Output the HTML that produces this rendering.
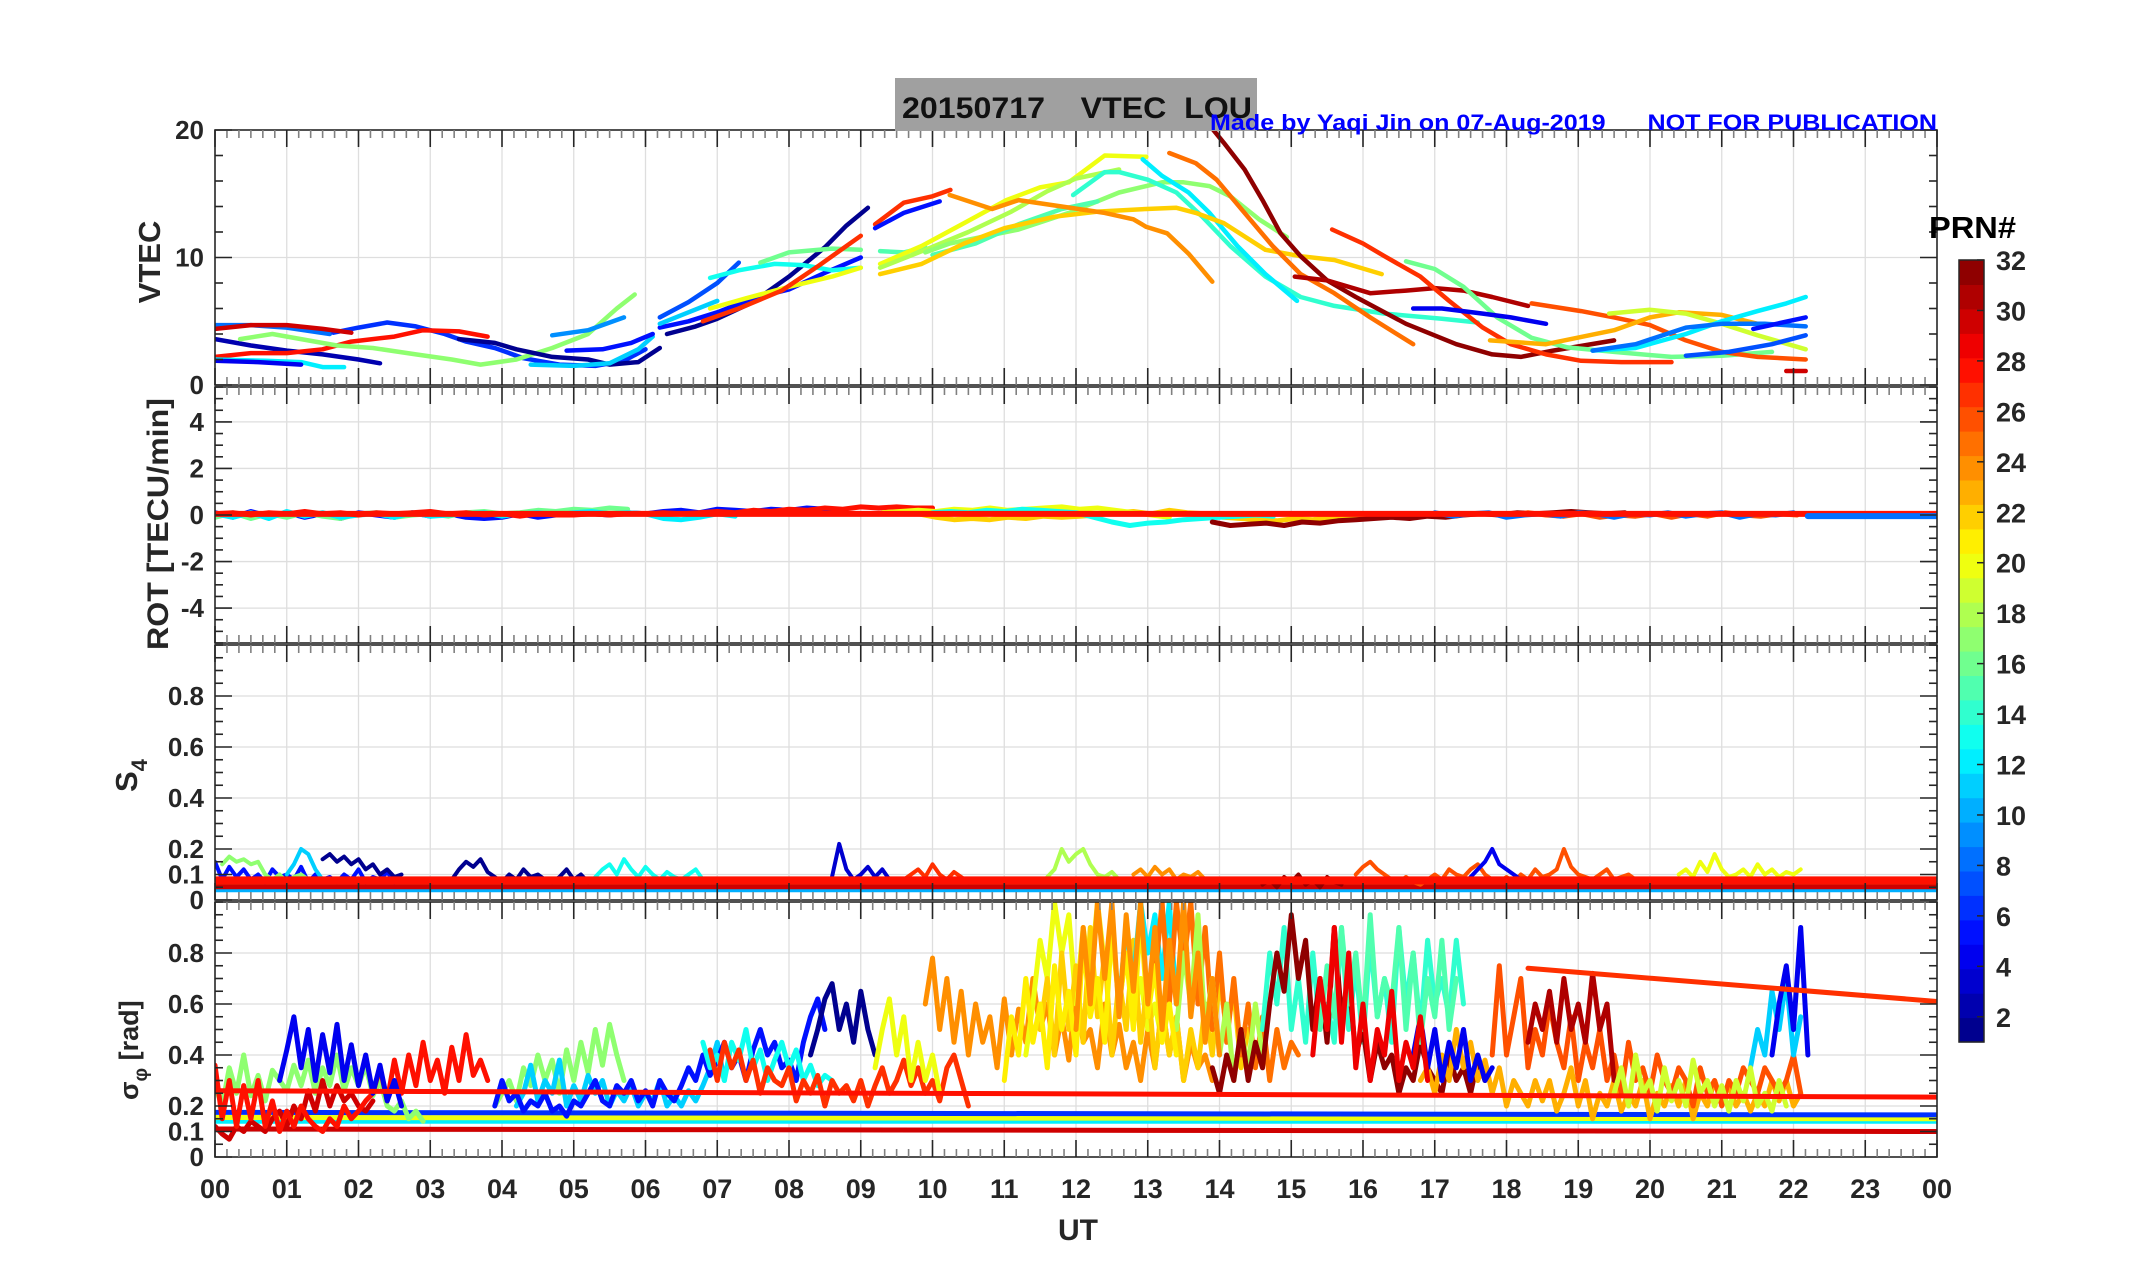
<!DOCTYPE html>
<html><head><meta charset="utf-8"><style>
html,body{margin:0;padding:0;background:#fff;}
svg{display:block;font-family:"Liberation Sans",Arial,sans-serif;}
</style></head><body>
<svg id="fig" width="2153" height="1286" viewBox="0 0 2153 1286" xmlns="http://www.w3.org/2000/svg">
<rect x="0" y="0" width="2153" height="1286" fill="#fff"/>
<g id="panels"></g>
<rect x="895" y="78" width="362" height="53" fill="#a0a0a0"/>
<text x="902" y="118" font-size="30" font-weight="bold" fill="#111" textLength="350" lengthAdjust="spacingAndGlyphs" xml:space="preserve">20150717    VTEC  LOU</text>
<text x="1210" y="130" font-size="22" font-weight="bold" fill="#0000ff" textLength="727" lengthAdjust="spacingAndGlyphs" xml:space="preserve">Made by Yaqi Jin on 07-Aug-2019      NOT FOR PUBLICATION</text>
<text transform="translate(160,262) rotate(-90)" text-anchor="middle" font-size="31" font-weight="bold" fill="#262626">VTEC</text>
<text transform="translate(168,524) rotate(-90)" text-anchor="middle" font-size="30" font-weight="bold" fill="#262626" textLength="252" lengthAdjust="spacingAndGlyphs">ROT [TECU/min]</text>
<text transform="translate(137,792) rotate(-90)" font-size="31" font-weight="bold" fill="#262626">S<tspan font-size="22" dy="10">4</tspan></text>
<text transform="translate(138,1100) rotate(-90)" font-size="27" font-weight="bold" fill="#262626">σ<tspan font-size="19" dy="9">φ</tspan><tspan dy="-9"> [rad]</tspan></text>
<text x="1078" y="1240" text-anchor="middle" font-size="30" font-weight="bold" fill="#262626">UT</text>
<g id="cbar"></g>
<text x="1929" y="238" font-size="31" font-weight="bold" fill="#000" textLength="87" lengthAdjust="spacingAndGlyphs">PRN#</text>
</svg>
<script>
// ---------- data ----------
const xHourTicks = [0,1,2,3,4,5,6,7,8,9,10,11,12,13,14,15,16,17,18,19,20,21,22,23,24];
const xTickLabels = ["00","01","02","03","04","05","06","07","08","09","10","11","12","13","14","15","16","17","18","19","20","21","22","23","00"];
const vtecTicks = [0,10,20];
const rotTicks = [-4,-2,0,2,4];
const s4Ticks = [0,0.1,0.2,0.4,0.6,0.8];
const sigTicks = [0,0.1,0.2,0.4,0.6,0.8];
const cbarTicks = [2,4,6,8,10,12,14,16,18,20,22,24,26,28,30,32];

// VTEC tracks: prn, [hour, TECU, ...]
const vtecPRN = [2,8,6,30,28,17,12,4,1,11,9,5,1,5,7,11,13,16,20,27,27,5,15,20,18,17,14,15,12,22,24,25,32,31,27,16,4,26,23,19,12,8,5,7,30];
const vtecPts = [
 [0,3.6,0.5,3.1,1,2.7,1.5,2.4,2,2.0,2.3,1.7],
 [0,4.7,0.5,4.7,1,4.5,1.6,4.0],
 [1.65,4.1,2.0,4.5,2.4,4.9,2.8,4.6,3.2,4.0,3.5,3.4,3.9,2.9,4.3,2.1,4.8,1.6,5.3,1.5,5.7,1.9,6.0,2.8],
 [0,4.4,0.5,4.7,1.0,4.7,1.5,4.4,1.9,4.1],
 [0,2.2,0.5,2.5,1,2.5,1.5,2.8,1.9,3.4,2.5,3.8,2.9,4.3,3.4,4.2,3.8,3.8],
 [0.35,3.6,0.8,4.0,1.2,3.6,1.7,3.1,2.2,2.9,2.8,2.4,3.3,2.0,3.7,1.6,4.2,2.0,4.7,2.9,5.2,4.0,5.6,6.0,5.85,7.1],
 [0,2.0,0.7,1.9,1.2,1.8,1.5,1.4,1.8,1.4],
 [0,1.9,0.6,1.8,1.2,1.6],
 [3.4,3.6,3.9,3.3,4.2,2.8,4.7,2.2,5.2,2.0,5.5,1.6,5.9,1.8,6.2,2.9],
 [4.4,1.6,5.0,1.5,5.5,1.7,5.9,2.8,6.1,3.8],
 [4.7,3.9,5.2,4.3,5.7,5.3],
 [4.9,2.7,5.4,2.8,5.8,3.3,6.1,4.0],
 [6.3,4.0,6.7,4.6,7.0,5.2,7.5,6.5,8.0,8.5,8.5,10.8,8.8,12.5,9.1,13.9],
 [6.2,4.5,6.6,5.0,7.0,5.7,7.5,6.8,8.0,7.5,8.5,8.8,9.0,10.0],
 [6.2,5.3,6.6,6.5,7.0,8.0,7.3,9.6],
 [6.2,4.8,6.6,5.7,7.0,6.6],
 [6.9,8.4,7.3,9.0,7.8,9.5,8.2,9.4,8.6,9.0,9.0,9.2],
 [7.6,9.6,8.0,10.4,8.6,10.7,9.0,10.6],
 [6.9,6.0,7.4,6.8,8.0,7.7,8.6,8.5,9.0,9.2],
 [6.8,5.0,7.3,6.0,7.9,7.4,8.4,9.3,9.0,11.7],
 [9.2,12.6,9.6,14.3,10.0,14.8,10.25,15.3],
 [9.2,12.3,9.6,13.5,10.1,14.4],
 [9.27,10.5,9.6,10.4,9.9,10.8],
 [9.27,9.5,9.85,10.9,10.44,12.7,11.03,14.5,11.5,15.5,11.9,15.9,12.4,18.0,12.98,17.9],
 [9.27,9.2,9.9,10.6,10.5,12.0,11.1,13.6,11.6,15.2,12.0,16.2,12.6,16.9],
 [9.9,10.4,10.24,11.1,11.2,12.2,11.9,13.5,12.6,15.1,13.2,15.9,13.5,15.9,13.86,15.6,14.15,14.8,14.55,13.0,14.94,11.6],
 [11.96,14.9,12.4,16.7,12.6,16.7,13.0,16.1,13.4,15.1,13.76,13.2,14.15,10.9,14.64,8.5,15.13,6.9,15.6,6.2,16.3,5.6,17.1,5.2,17.6,4.9],
 [10.0,10.2,10.6,11.1,11.2,12.6,11.8,13.8,12.3,14.4],
 [12.93,17.7,13.2,16.4,13.57,15.1,13.86,13.5,14.25,10.9,14.64,8.7,15.08,6.6],
 [9.27,8.7,9.85,9.5,10.44,11.1,11.0,12.3,11.7,13.2,12.3,13.6,12.98,13.8,13.4,13.9,13.67,13.5,14.06,12.7,14.64,10.6,15.13,10.1,15.6,9.8,16.26,8.7],
 [10.24,14.9,10.83,13.8,11.2,14.5,11.8,14.0,12.4,13.5,12.8,13.0,12.98,12.4,13.27,11.9,13.57,10.3,13.9,8.1],
 [13.3,18.2,13.67,17.4,13.96,16.1,14.35,13.5,14.74,10.9,15.13,8.7,15.6,7.2,16.1,5.3,16.7,3.2],
 [13.9,20.1,14.06,19.0,14.35,16.9,14.6,14.5,14.85,11.9,15.13,10.1,15.5,8.2,15.9,6.9,16.6,4.8,17.3,3.2,17.8,2.4,18.2,2.2,18.65,2.7,19.5,3.5],
 [15.05,8.5,15.5,8.2,16.1,7.2,16.6,7.4,17.0,7.6,17.4,7.4,17.8,6.9,18.3,6.2],
 [15.57,12.2,16.0,11.1,16.3,10.1,16.8,8.5,17.2,6.6,17.67,4.5,18.06,3.2,18.55,2.4,19.04,1.9,19.6,1.8,20.3,1.8],
 [16.6,9.7,17.0,9.1,17.4,7.7,17.87,5.3,18.35,3.7,18.85,2.95,19.5,2.6,20.3,2.2,21.0,2.3,21.7,2.6],
 [16.7,6.0,17.1,6.0,17.67,5.6,18.06,5.3,18.55,4.8],
 [18.35,6.4,19.04,5.8,19.5,5.3,20.0,4.7,20.5,3.5,21.0,2.6,21.5,2.2,22.17,2.0],
 [17.77,3.5,18.55,3.2,19.5,4.3,20.0,5.3,20.4,5.7,21.0,5.5,21.5,4.8],
 [19.43,5.6,20.0,5.9,20.5,5.6,21.0,4.8,21.5,3.9,22.17,2.8],
 [19.2,2.7,19.8,2.9,20.5,4.0,21.0,5.0,21.5,5.8,21.9,6.4,22.17,6.9],
 [19.2,2.7,19.8,3.2,20.5,4.5,21.0,4.8,21.6,4.8,22.17,4.6],
 [21.44,4.4,22.17,5.3],
 [20.5,2.3,21.1,2.6,21.7,3.2,22.17,3.9],
 [21.9,1.1,22.17,1.1]
];

// ROT noisy tracks: prn, start hour, step 0.25h, values
const rotPRN = [5,16,12,28,22,20,13,32,26,8];
const rotStart = [0,0,0,0,9.3,9.3,10,13.9,17.8,17];
const rotVals = [
 [0.1,-0.1,0.15,-0.05,0.1,-0.1,0.05,-0.15,0.1,0,-0.1,0.1,-0.05,0.05,-0.1,-0.15,-0.1,0.05,-0.1,0,0.1,0.05,0,0.1,0.05,0.15,0.2,0.1,0.25,0.2,0.15,0.25,0.2,0.3,0.25,0.2],
 [-0.1,0.1,-0.15,0.05,-0.1,0.1,-0.05,-0.15,0.05,0.1,-0.1,0,0.05,-0.05,0.1,0.15,0.05,0.1,0.2,0.15,0.25,0.2,0.3,0.25],
 [0.05,-0.1,0.1,-0.15,0.15,-0.05,0.1,-0.1,0,0.05,-0.1,0.1,-0.05,0,0.05,0.1,-0.05,0.05,0.1,0,0.1,0.15,0.05,0.1,0.05,-0.15,-0.2,-0.1,0.05,-0.05],
 [0.05,0.1,0,0.1,0.05,0.15,0.05,0.1,0,0.1,0.05,0.1,0.15,0.05,0.1,0,0.05,-0.05,0.05,0,0,0.05,0,0.05,0.05,0.1,0.05,0.1,0.15,0.1,0.2,0.15,0.25,0.2,0.3,0.25,0.35,0.3,0.35,0.3,0.3],
 [0.05,0.1,0.05,-0.1,-0.2,-0.15,-0.2,-0.1,-0.15,-0.05,-0.1,-0.05,0,0.1,0.15,0.05,0.2,0.1,0.05,-0.1,-0.15,-0.2,-0.25,-0.15,-0.2,-0.1,-0.15,-0.05,-0.1],
 [0.1,0.15,0.2,0.15,0.25,0.2,0.3,0.2,0.25,0.3,0.35,0.25,0.3,0.2,0.1,0,-0.1],
 [0.1,0.15,0.1,0.2,0.15,0.25,0.2,0.15,0.1,-0.1,-0.3,-0.45,-0.35,-0.3,-0.2,-0.15,-0.1,-0.05,0,-0.05],
 [-0.3,-0.45,-0.4,-0.35,-0.45,-0.3,-0.35,-0.25,-0.2,-0.15,-0.1,-0.15,-0.05,-0.1,0,0.05,0,0.1,0.05,0.1,0.15,0.1,0.05,0.1],
 [0.05,-0.05,0.1,0,-0.05,0.05,-0.1,0,-0.05,0.05,-0.1,0.05,-0.05,0.1,0,-0.05,0.05,0],
 [0.1,-0.05,0.05,0.1,-0.1,0,0.05,-0.05,0.1,0.05,-0.1,0.05,0,0.1,-0.05,0.05,0.1,-0.1,0.05,0,0.1]
];
const rotFlatPRN = [28,8];
const rotFlat = [[0,0.05,24,0.05],[22.2,-0.05,24,-0.05]];

// S4 noisy tracks: prn, start hour, step 0.1h, values
const s4PRN = [5,1,17,11,1,13,3,27,18,24,32,26,4,20];
const s4Start = [0,1.5,0.1,1.0,3.3,5.3,8.6,9.6,11.6,12.8,14.6,15.9,17.5,20.4];
const s4Vals = [
 [0.15,0.08,0.13,0.09,0.12,0.08,0.1,0.07,0.12,0.09,0.1,0.08,0.13,0.07,0.1,0.08,0.09,0.07,0.1,0.08,0.12,0.07,0.09,0.08,0.11,0.07],
 [0.16,0.18,0.15,0.17,0.14,0.16,0.12,0.14,0.1,0.12,0.09,0.1],
 [0.14,0.17,0.15,0.16,0.14,0.15,0.1,0.08,0.1,0.07,0.09,0.1,0.08],
 [0.1,0.14,0.2,0.18,0.12,0.08],
 [0.08,0.12,0.15,0.13,0.16,0.11,0.09,0.07,0.1,0.08,0.12,0.09,0.1,0.08,0.07,0.09,0.12,0.08,0.1,0.07],
 [0.09,0.12,0.14,0.1,0.16,0.12,0.09,0.13,0.1,0.08,0.11,0.09,0.08,0.1,0.12,0.08,0.07],
 [0.09,0.22,0.12,0.08,0.1,0.13,0.09,0.12,0.08],
 [0.08,0.1,0.12,0.09,0.14,0.1,0.08,0.11,0.09,0.07],
 [0.09,0.12,0.2,0.15,0.18,0.2,0.14,0.1,0.09,0.11,0.08],
 [0.1,0.12,0.09,0.13,0.1,0.12,0.08,0.1,0.09,0.11,0.08],
 [0.06,0.08,0.05,0.09,0.07,0.1,0.06,0.08,0.05,0.09,0.07,0.06],
 [0.1,0.13,0.15,0.12,0.1,0.08,0.07,0.09,0.07,0.06,0.08,0.1,0.08,0.12,0.1,0.09,0.12,0.14,0.1,0.08,0.07,0.09,0.07,0.1,0.08,0.12,0.09,0.1,0.12,0.2,0.13,0.1,0.09,0.08,0.1,0.12,0.08,0.09,0.1,0.08],
 [0.09,0.12,0.15,0.2,0.14,0.12,0.1,0.08],
 [0.1,0.12,0.09,0.15,0.11,0.18,0.12,0.09,0.1,0.12,0.09,0.14,0.1,0.12,0.09,0.11,0.1,0.12]
];
const s4FlatPRN = [10,20,30,28];
const s4Flat = [[0,0.04,24,0.04],[0,0.06,24,0.06],[0,0.052,24,0.052],[0,0.077,24,0.077]];

// sigma-phi noisy tracks: prn, start hour, step 0.1h, values
const sigPRN = [17,17,11,5,30,28,4,1,13,27,20,24,20,22,12,25,18,14,32,23,26,31,4,11,4,21,24,15,29,19];
const sigStart = [0,3.9,4.2,3.9,0,0,0.9,8.3,6.8,6.9,9.2,9.9,11.3,11.5,12.6,13.1,13.4,14.6,13.9,16.8,17.8,18.3,16.7,21.4,21.7,11.0,12.0,15.4,15.3,19.5];
const sigVals = [
 [0.28,0.2,0.35,0.25,0.4,0.24,0.32,0.22,0.34,0.3,0.26,0.36,0.28,0.38,0.25,0.35,0.28,0.4,0.26,0.35,0.28,0.36,0.24,0.3,0.2,0.18,0.22,0.15,0.18,0.14],
 [0.2,0.25,0.3,0.22,0.35,0.28,0.4,0.3,0.38,0.25,0.42,0.3,0.45,0.33,0.5,0.36,0.52,0.4,0.3],
 [0.2,0.25,0.36,0.22,0.3,0.25,0.38,0.2,0.28,0.22,0.32,0.25,0.3,0.2,0.26,0.22,0.28,0.2,0.25,0.22,0.3,0.2,0.24,0.2,0.26,0.22,0.28,0.35,0.45,0.3],
 [0.2,0.3,0.22,0.25,0.18,0.22,0.2,0.25,0.18,0.2,0.16,0.22,0.2,0.25,0.3,0.22,0.2,0.28,0.25,0.3,0.22,0.26,0.2,0.3,0.25,0.22,0.28,0.35,0.3,0.4,0.32,0.38,0.45,0.35,0.4,0.3,0.42,0.5,0.4,0.45,0.35,0.38,0.3,0.45,0.55,0.62,0.5],
 [0.12,0.09,0.07,0.12,0.1,0.14,0.12,0.1,0.15,0.18,0.12,0.2,0.15,0.26,0.18,0.3,0.2,0.28,0.22,0.25,0.2,0.18,0.22],
 [0.36,0.15,0.3,0.12,0.28,0.15,0.3,0.12,0.22,0.1,0.18,0.12,0.2,0.15,0.12,0.1,0.15,0.12,0.2,0.15,0.18,0.22,0.25,0.35,0.22,0.38,0.25,0.4,0.28,0.45,0.3,0.38,0.25,0.43,0.3,0.48,0.32,0.38,0.3],
 [0.3,0.42,0.55,0.35,0.5,0.3,0.48,0.33,0.52,0.3,0.44,0.28,0.4,0.25,0.36,0.22,0.3,0.2],
 [0.4,0.5,0.62,0.68,0.5,0.6,0.45,0.65,0.5,0.4],
 [0.45,0.35,0.4,0.3,0.45,0.38,0.5,0.35,0.42,0.3,0.38,0.45,0.35,0.42,0.3,0.36,0.28,0.32,0.3],
 [0.42,0.3,0.45,0.35,0.42,0.3,0.38,0.25,0.35,0.3,0.28,0.35,0.22,0.3,0.25,0.32,0.2,0.3,0.25,0.28,0.22,0.3,0.2,0.28,0.35,0.25,0.3,0.38,0.28,0.35,0.25,0.3,0.22,0.35,0.4,0.3,0.2],
 [0.35,0.5,0.62,0.4,0.55,0.3,0.45,0.3,0.4,0.25],
 [0.6,0.78,0.5,0.7,0.45,0.65,0.4,0.6,0.45,0.55,0.35,0.62,0.4,0.58,0.45,0.7,0.5,0.6,0.4,0.55,0.38,0.65,0.45,0.5,0.35,0.6,0.4,0.52,0.35,0.45,0.3,0.5,0.35,0.6,0.4,0.55,0.3,0.45,0.35,0.4,0.3],
 [0.4,0.6,0.85,0.7,1.0,0.8,0.95,0.6,0.9,0.7,1.0,0.75,0.88,0.6,0.8,0.55,0.7,0.5,0.6,0.45],
 [0.5,0.7,0.4,0.8,0.5,0.75,0.45,0.9,0.55,0.8,0.4,0.7,0.5,0.85,0.45,0.7,0.35,0.6,0.4,0.55,0.3,0.5,0.35,0.6,0.4,0.7,0.5,0.65,0.35,0.5],
 [0.6,0.9,0.7,1.0,0.8,0.95,0.7,1.0,0.6,0.85],
 [0.7,1.0,0.6,1.0,0.75,1.0,0.6,0.9,0.5,0.8,0.45,0.7,0.4,0.6,0.35,0.55,0.3,0.5,0.35,0.45,0.4],
 [0.5,0.8,0.6,0.95,0.5,0.7,0.4,0.6,0.3,0.5,0.35,0.6,0.4],
 [0.5,0.8,0.6,0.9,0.5,0.7,0.45,0.8,0.5,0.6,0.45,0.9,0.5,0.75,0.45,0.85,0.55,0.7,0.45,0.9,0.6,0.8,0.5,0.85,0.6,0.7,0.55,0.85,0.6],
 [0.35,0.25,0.4,0.3,0.5,0.3,0.45,0.35,0.6,0.8,0.65,0.95,0.7,0.85,0.5,0.7,0.45,0.9,0.55,0.7,0.4,0.5,0.3,0.45,0.35,0.4,0.25,0.35,0.3,0.45,0.35,0.3,0.25,0.4,0.3,0.35,0.25,0.38,0.3],
 [0.3,0.35,0.25,0.4,0.3,0.5,0.35,0.45,0.3,0.38,0.25,0.35,0.2,0.3,0.25,0.2,0.3,0.22,0.3,0.18,0.25,0.35,0.2,0.3,0.15,0.25,0.2,0.3,0.18,0.25,0.2,0.3,0.15,0.25,0.2,0.28,0.2,0.3,0.15,0.25,0.2,0.3,0.22,0.28,0.2,0.25,0.18,0.25,0.2,0.3,0.22,0.3,0.2,0.25],
 [0.4,0.75,0.4,0.55,0.7,0.35,0.5,0.4,0.6,0.45,0.35,0.55,0.3,0.45,0.35,0.5,0.3,0.4,0.25,0.45,0.3,0.35,0.25,0.4,0.3,0.25,0.35,0.3,0.2,0.35,0.25,0.3,0.2,0.3,0.25,0.35,0.3,0.25,0.35,0.3,0.25,0.3,0.4,0.25],
 [0.45,0.6,0.5,0.65,0.45,0.7,0.5,0.6,0.45,0.72,0.5,0.6,0.3],
 [0.4,0.55,0.35,0.5,0.3,0.45,0.35,0.5,0.3,0.4,0.3,0.35],
 [0.35,0.5,0.4,0.65,0.5,0.7,0.4,0.55],
 [0.4,0.6,0.75,0.5,0.9,0.4],
 [0.3,0.55,0.4,0.7,0.45,0.6,0.35,0.75,0.5,0.65,0.4,0.85,0.55,0.7,0.45,0.9,0.6,0.8,0.5,0.95,0.55,0.75,0.45,0.6,0.4],
 [0.5,0.9,0.6,1.0,0.7,1.0,0.55,0.95,0.65,1.0,0.6,0.9,0.5,0.85,0.6,1.0,0.55,0.8,0.45,0.7,0.4],
 [0.5,0.75,0.55,0.9,0.6,0.8,0.5,0.95,0.55,0.7,0.6,0.9,0.5,0.8,0.45,0.7,0.55,0.85,0.5,0.7],
 [0.4,0.7,0.5,0.9,0.45,0.8,0.35,0.6,0.3,0.5,0.4,0.65,0.3,0.45,0.35,0.55,0.3],
 [0.25,0.35,0.2,0.4,0.25,0.3,0.18,0.35,0.22,0.3,0.2,0.38,0.25,0.3,0.2,0.28,0.18,0.3,0.22,0.35,0.2,0.25,0.18,0.3,0.2]
];
const sigFlatPRN = [30,12,20,6,28,27];
const sigFlat = [[0,0.11,24,0.10],[0,0.14,24,0.14],[0,0.155,24,0.15],[0,0.175,24,0.165],[0,0.26,24,0.235],[18.3,0.74,24,0.61]];

// ---------- layout ----------
const X0 = 215, X1 = 1937;
const NS = 'http://www.w3.org/2000/svg';
function xs(h){ return X0 + (X1 - X0) * h / 24; }
const panels = [
 {name:'vtec', top:130, bot:385, min:0, max:20, major:vtecTicks, minorStep:2, grid:[10]},
 {name:'rot', top:387, bot:643, min:-5.5, max:5.5, major:rotTicks, minorStep:0.5, grid:[-4,-2,0,2,4]},
 {name:'s4', top:645, bot:900, min:0, max:1, major:s4Ticks, minorStep:0.05, grid:[0.1,0.2,0.4,0.6,0.8]},
 {name:'sigma-phi', top:902, bot:1157, min:0, max:1, major:sigTicks, minorStep:0.05, grid:[0.1,0.2,0.4,0.6,0.8]}
];
function ysOf(p){ return v => p.bot - (v - p.min) / (p.max - p.min) * (p.bot - p.top); }
function jet(prn){
  const t = (prn - 0.5) / 32;
  const c = a => Math.max(0, Math.min(1, a));
  const r = c(1.5 - Math.abs(4*t - 3)), g = c(1.5 - Math.abs(4*t - 2)), b = c(1.5 - Math.abs(4*t - 1));
  return 'rgb(' + Math.round(r*255) + ',' + Math.round(g*255) + ',' + Math.round(b*255) + ')';
}
function mk(tag, attrs, parent){
  const e = document.createElementNS(NS, tag);
  for (const k in attrs) e.setAttribute(k, attrs[k]);
  parent.appendChild(e); return e;
}
const root = document.getElementById('panels');
const defs = mk('defs', {}, root);

panels.forEach((p, pi) => {
  const ys = ysOf(p);
  const g = mk('g', {}, root);
  
  
  const cp = mk('clipPath', {id:'clip' + pi}, defs);
  mk('rect', {x:X0, y:p.top, width:X1 - X0, height:p.bot - p.top}, cp);
  const grid = mk('g', {stroke:'#dedede', 'stroke-width':1.3}, g);
  
  
  xHourTicks.forEach(h => { if (h > 0 && h < 24) mk('line', {x1:xs(h), x2:xs(h), y1:p.top, y2:p.bot}, grid); });
  p.grid.forEach(v => mk('line', {x1:X0, x2:X1, y1:ys(v), y2:ys(v)}, grid));
  const sg = mk('g', {'clip-path':'url(#clip' + pi + ')', fill:'none', 'stroke-linejoin':'round', 'stroke-linecap':'round'}, g);
  
  
  p.layer = sg; p.ys = ys;
  const ax = mk('g', {stroke:'#262626', 'stroke-width':1.6, fill:'none'}, g);
  
  
  mk('rect', {x:X0, y:p.top, width:X1 - X0, height:p.bot - p.top}, ax);
  for (let m = 0; m <= 144; m++) {
    const x = xs(m / 6), maj = (m % 6 === 0), L = maj ? 17 : 8;
    const col = maj ? '#262626' : '#808080';
    mk('line', {x1:x, x2:x, y1:p.top, y2:p.top + L, stroke:col}, ax);
    mk('line', {x1:x, x2:x, y1:p.bot, y2:p.bot - L, stroke:col}, ax);
  }
  const nMin = Math.round((p.max - p.min) / p.minorStep);
  for (let i = 0; i <= nMin; i++) {
    const v = p.min + i * p.minorStep;
    const maj = p.major.some(t => Math.abs(t - v) < 1e-6);
    const L = maj ? 17 : 8, y = ys(v);
    mk('line', {x1:X0, x2:X0 + L, y1:y, y2:y}, ax);
    mk('line', {x1:X1, x2:X1 - L, y1:y, y2:y}, ax);
  }
  p.major.forEach(v => {
    const t = mk('text', {x:204, y:ys(v) + 9, 'text-anchor':'end', 'font-size':26, 'font-weight':'bold', fill:'#262626'}, g);
    
    
    t.textContent = String(v);
  });
});

function polyline(layer, pts, color, w, name){
  const e = mk('polyline', {points:pts.join(' '), stroke:color, 'stroke-width':w}, layer);
  
  
}
function flatTrack(p, arr, prn, w, name){
  polyline(p.layer, [xs(arr[0]) + ',' + p.ys(arr[1]), xs(arr[2]) + ',' + p.ys(arr[3])], jet(prn), w, name);
}
function noisyTrack(p, start, step, vals, prn, w, name){
  const pts = vals.map((v, i) => xs(start + i * step).toFixed(1) + ',' + p.ys(v).toFixed(1));
  polyline(p.layer, pts, jet(prn), w, name);
}

vtecPts.forEach((arr, i) => {
  const pts = [];
  for (let k = 0; k < arr.length; k += 2) pts.push(xs(arr[k]).toFixed(1) + ',' + panels[0].ys(arr[k+1]).toFixed(1));
  polyline(panels[0].layer, pts, jet(vtecPRN[i]), 4.5, 'vtec-prn' + vtecPRN[i]);
});
rotVals.forEach((vals, i) => noisyTrack(panels[1], rotStart[i], 0.25, vals, rotPRN[i], 5, 'rot-prn' + rotPRN[i]));
rotFlat.forEach((a, i) => flatTrack(panels[1], a, rotFlatPRN[i], 6, 'rot-flat-prn' + rotFlatPRN[i]));
s4Flat.forEach((a, i) => { if (i < 3) flatTrack(panels[2], a, s4FlatPRN[i], 5, 's4-flat-prn' + s4FlatPRN[i]); });
s4Vals.forEach((vals, i) => noisyTrack(panels[2], s4Start[i], 0.1, vals, s4PRN[i], 4, 's4-prn' + s4PRN[i]));
flatTrack(panels[2], s4Flat[3], s4FlatPRN[3], 8, 's4-flat-prn' + s4FlatPRN[3]);
sigFlat.forEach((a, i) => { if (i < 4) flatTrack(panels[3], a, sigFlatPRN[i], 5, 'sigma-flat-prn' + sigFlatPRN[i]); });
sigVals.forEach((vals, i) => noisyTrack(panels[3], sigStart[i], 0.1, vals, sigPRN[i], 5, 'sigma-prn' + sigPRN[i]));
sigFlat.forEach((a, i) => { if (i >= 4) flatTrack(panels[3], a, sigFlatPRN[i], 5, 'sigma-flat-prn' + sigFlatPRN[i]); });

const svg = document.getElementById('fig');
xHourTicks.forEach((h, i) => {
  const t = mk('text', {x:xs(h), y:1198, 'text-anchor':'middle', 'font-size':27, 'font-weight':'bold', fill:'#262626'}, svg);
  
  
  t.textContent = xTickLabels[i];
});

const cb = document.getElementById('cbar');
const CT = 260, CB = 1042, CX = 1959, CW = 25;
function cy(v){ return CT + (32 - v) / 31 * (CB - CT); }
for (let k = 1; k <= 32; k++) {
  const y0 = CT + (32 - k) / 32 * (CB - CT), y1 = CT + (33 - k) / 32 * (CB - CT);
  const r = mk('rect', {x:CX, y:y0.toFixed(1), width:CW, height:(y1 - y0 + 0.6).toFixed(1), fill:jet(k)}, cb);
  
  
}
mk('rect', {x:CX, y:CT, width:CW, height:CB - CT, fill:'none', stroke:'#262626', 'stroke-width':1.5}, cb);
cbarTicks.forEach(v => {
  const y = cy(v);
  mk('line', {x1:CX + CW - 7, x2:CX + CW, y1:y, y2:y, stroke:'#262626', 'stroke-width':1.5}, cb);
  const t = mk('text', {x:1996, y:y + 10, 'font-size':27, 'font-weight':'bold', fill:'#262626'}, cb);
  
  
  t.textContent = String(v);
});
</script>
</body></html>
